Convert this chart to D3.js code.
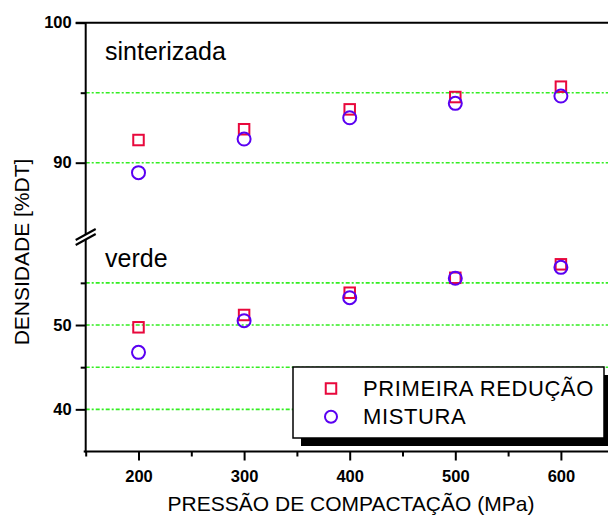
<!DOCTYPE html>
<html>
<head>
<meta charset="utf-8">
<script src="https://cdn.jsdelivr.net/npm/d3@7"></script>
<style>
  html, body { margin: 0; padding: 0; background: #fff; }
  svg { display: block; font-family: "Liberation Sans", Arial, sans-serif; }
</style>
</head>
<body>
<svg id="chart" width="608" height="515"></svg>
<script>
// ---- data ----
const pressures = [200, 300, 400, 500, 600];
const sinterPrimeira = [91.62, 92.39, 93.81, 94.69, 95.43];
const sinterMistura  = [89.29, 91.69, 93.21, 94.24, 94.76];
const verdePrimeira  = [49.73, 51.19, 53.83, 55.60, 57.20];
const verdeMistura   = [46.76, 50.51, 53.24, 55.54, 56.84];
const xTicks = [200, 300, 400, 500, 600];
const xMinorTicks = [150, 250, 350, 450, 550, 650];
const topTicks = [90, 100];
const topMinor = [95];
const bottomTicks = [40, 50];
const bottomMinor = [45, 55];
const topGrid = [90, 95];
const bottomGrid = [40, 45, 50, 55];
const seriesNames = ["PRIMEIRA REDUÇÃO", "MISTURA"];
const xTitle = "PRESSÃO DE COMPACTAÇÃO (MPa)";
const yTitle = "DENSIDADE [%DT]";
const topLabel = "sinterizada";
const bottomLabel = "verde";

const RED = "#e8083c";
const BLUE = "#5a00f2";
const GREEN = "#33ee22";

const svg = d3.select("#chart");
const W = 608;

const x = d3.scaleLinear().domain([150, 650]).range([85.7, 613.7]);
const yTop = d3.scaleLinear().domain([85, 100]).range([232.7, 22.7]);
const yBot = d3.scaleLinear().domain([35, 60]).range([451.5, 240.7]);
const axisX = x(150);

// grid lines
const grid = svg.append("g");
function gridLines(vals, scale) {
  grid.selectAll(null).data(vals).enter().append("line")
    .attr("x1", axisX).attr("x2", W)
    .attr("y1", d => scale(d)).attr("y2", d => scale(d))
    .attr("stroke", GREEN).attr("stroke-width", 1.6)
    .attr("stroke-dasharray", "4,2,2,2");
}
gridLines(topGrid, yTop);
gridLines(bottomGrid, yBot);

// axes
const tickFont = g => g.selectAll("text")
  .attr("font-family", '"Liberation Sans", Arial, sans-serif')
  .attr("font-size", 16.5).attr("font-weight", "bold").attr("fill", "#000");
const styleTicks = g => { g.select(".domain").remove(); g.selectAll("line").attr("stroke", "#000").attr("stroke-width", 2); };

svg.append("g").attr("transform", `translate(${axisX},0)`)
  .call(d3.axisLeft(yTop).tickValues(topTicks).tickSize(10).tickPadding(4).tickFormat(d3.format("d")))
  .call(styleTicks).call(tickFont);
svg.append("g").attr("transform", `translate(${axisX},0)`)
  .call(d3.axisLeft(yTop).tickValues(topMinor).tickSize(5).tickFormat(""))
  .call(styleTicks);
svg.append("g").attr("transform", `translate(${axisX},0)`)
  .call(d3.axisLeft(yBot).tickValues(bottomTicks).tickSize(10).tickPadding(4).tickFormat(d3.format("d")))
  .call(styleTicks).call(tickFont);
svg.append("g").attr("transform", `translate(${axisX},0)`)
  .call(d3.axisLeft(yBot).tickValues(bottomMinor).tickSize(5).tickFormat(""))
  .call(styleTicks);

const yBase = yBot(35);
svg.append("g").attr("transform", `translate(0,${yBase})`)
  .call(d3.axisBottom(x).tickValues(xTicks).tickSize(9).tickPadding(10).tickFormat(d3.format("d")))
  .call(styleTicks).call(tickFont);
svg.append("g").attr("transform", `translate(0,${yBase})`)
  .call(d3.axisBottom(x).tickValues(xMinorTicks).tickSize(5).tickFormat(""))
  .call(styleTicks);

// axis lines
const axisG = svg.append("g").attr("stroke", "#000").attr("stroke-width", 2).attr("fill", "none");
axisG.append("line").attr("x1", axisX - 2).attr("x2", W).attr("y1", yBase).attr("y2", yBase);
axisG.append("line").attr("x1", axisX - 10).attr("x2", W).attr("y1", yTop(100)).attr("y2", yTop(100));
axisG.append("line").attr("x1", axisX).attr("x2", axisX).attr("y1", yTop(100)).attr("y2", yBase + 1);

// break marks
const bY = 237;
svg.append("polygon")
  .attr("points", `${axisX-10},${bY+3} ${axisX+10},${bY-8} ${axisX+10},${bY-3} ${axisX-10},${bY+8}`)
  .attr("fill", "#fff");
svg.append("line").attr("x1", axisX - 10).attr("y1", bY + 3).attr("x2", axisX + 10).attr("y2", bY - 8)
  .attr("stroke", "#000").attr("stroke-width", 2);
svg.append("line").attr("x1", axisX - 10).attr("y1", bY + 8).attr("x2", axisX + 10).attr("y2", bY - 3)
  .attr("stroke", "#000").attr("stroke-width", 2);

// markers
const SQ = 10.5, R = 6.5;
function squares(vals, scale) {
  svg.append("g").selectAll("rect").data(vals).enter().append("rect")
    .attr("x", (d, i) => x(pressures[i]) - SQ / 2)
    .attr("y", d => scale(d) - SQ / 2)
    .attr("width", SQ).attr("height", SQ)
    .attr("fill", "none").attr("stroke", RED).attr("stroke-width", 2);
}
function circles(vals, scale) {
  svg.append("g").selectAll("circle").data(vals).enter().append("circle")
    .attr("cx", (d, i) => x(pressures[i]))
    .attr("cy", d => scale(d))
    .attr("r", R)
    .attr("fill", "none").attr("stroke", BLUE).attr("stroke-width", 2);
}
squares(sinterPrimeira, yTop);
squares(verdePrimeira, yBot);
circles(sinterMistura, yTop);
circles(verdeMistura, yBot);

// panel labels
svg.append("text").attr("x", 105).attr("y", 60).attr("font-size", 25).text(topLabel);
svg.append("text").attr("x", 105).attr("y", 267).attr("font-size", 25).text(bottomLabel);

// axis titles
svg.append("text").attr("x", 351).attr("y", 511).attr("text-anchor", "middle")
  .attr("font-size", 21).text(xTitle);
svg.append("text").attr("transform", "translate(29,252) rotate(-90)").attr("text-anchor", "middle")
  .attr("font-size", 21).text(yTitle);

// legend
const lg = svg.append("g");
const lx = 293, ly = 367, lw = 311, lh = 71;
lg.append("rect").attr("x", lx + 8).attr("y", ly + 8).attr("width", lw).attr("height", lh).attr("fill", "#000");
lg.append("rect").attr("x", lx).attr("y", ly).attr("width", lw).attr("height", lh)
  .attr("fill", "#fff").attr("stroke", "#000").attr("stroke-width", 1.5);
const legendRows = [388.5, 416.8];
lg.append("rect").attr("x", 331 - SQ / 2).attr("y", legendRows[0] - SQ / 2).attr("width", SQ).attr("height", SQ)
  .attr("fill", "none").attr("stroke", RED).attr("stroke-width", 2);
lg.append("circle").attr("cx", 331).attr("cy", legendRows[1]).attr("r", R - 0.5)
  .attr("fill", "none").attr("stroke", BLUE).attr("stroke-width", 2);
lg.selectAll("text.leg").data(seriesNames).enter().append("text").attr("class", "leg")
  .attr("x", 363).attr("y", (d, i) => legendRows[i] + 7.5)
  .attr("font-size", 22).attr("letter-spacing", 0.6).text(d => d);
</script>
</body>
</html>
